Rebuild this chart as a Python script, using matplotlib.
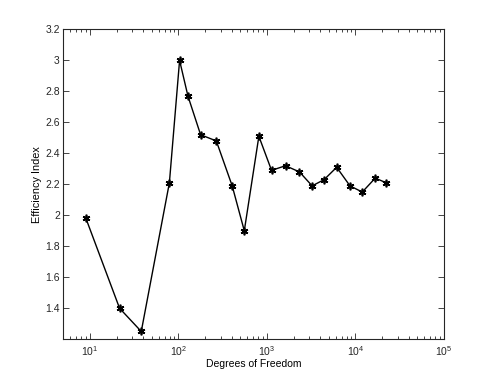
import numpy as np
import matplotlib.pyplot as plt
from matplotlib.ticker import LogLocator, FixedLocator

plt.rcParams['font.family'] = ['Liberation Sans', 'DejaVu Sans']
plt.rcParams['mathtext.fontset'] = 'custom'
plt.rcParams['mathtext.rm'] = 'Liberation Sans'

# degrees of freedom vs efficiency index
dof = [9, 21.6, 38, 79, 103, 128, 178, 268, 405, 555,
       811, 1128, 1622, 2333, 3245, 4426, 6143, 8690, 11960, 16760, 22300]
eff = [1.98, 1.40, 1.25, 2.21, 3.00, 2.77, 2.52, 2.48, 2.19, 1.90,
       2.51, 2.29, 2.32, 2.28, 2.19, 2.23, 2.31, 2.19, 2.15, 2.24, 2.21]
Y_TICKS = [1.4, 1.6, 1.8, 2.0, 2.2, 2.4, 2.6, 2.8, 3.0, 3.2]
Y_LABELS = ['1.4', '1.6', '1.8', '2', '2.2', '2.4', '2.6', '2.8', '3', '3.2']

fig = plt.figure(figsize=(4.91, 3.82), dpi=100)
ax = fig.add_axes([0.129, 0.112, 0.775, 0.811])
# matlab-style asterisk marker
ax.semilogx(dof, eff, 'k-', lw=1.0, marker=(6, 2, 0), ms=5.5, mew=1.2,
            mfc='k', mec='k')

ax.set_xlim(5, 1e5)
ax.set_ylim(1.2, 3.2)
ax.xaxis.set_major_locator(LogLocator(base=10, numticks=10))
ax.xaxis.set_minor_locator(LogLocator(base=10, subs=np.arange(2, 10), numticks=10))
ax.yaxis.set_major_locator(FixedLocator(Y_TICKS))
ax.set_yticklabels(Y_LABELS)

ax.tick_params(which='both', direction='in', top=True, right=True,
               labelsize=7.5, width=0.6, colors='#262626')
ax.tick_params(axis='y', pad=2.5)
ax.tick_params(which='major', length=4)
ax.tick_params(which='minor', length=2)
for s in ax.spines.values():
    s.set_linewidth(0.8)
    s.set_color('#262626')

ax.set_xlabel('Degrees of Freedom', fontsize=7.5, labelpad=1)
ax.set_ylabel('Efficiency Index', fontsize=7.8, labelpad=2)

fig.savefig('out.png', dpi=100)
